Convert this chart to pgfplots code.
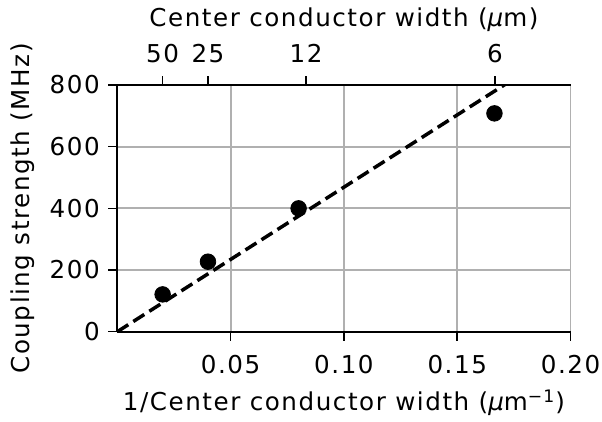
\documentclass[border=0pt]{standalone}
\usepackage{pgfplots}
\pgfplotsset{compat=1.18}
\usepackage{fontspec}
\setmainfont{DejaVu Sans}[LetterSpace=6.3]
\definecolor{gridgray}{HTML}{B0B0B0}
\newcommand{\fs}{\fontsize{12.3}{14.5}\selectfont}
\begin{document}
\fs
\begin{tikzpicture}
\path[use as bounding box] (-58.65pt,-45.15pt) rectangle (242.35pt,165.85pt);
\begin{axis}[
  at={(0pt,0pt)}, anchor=south west,
  scale only axis, width=226.65pt, height=123.35pt,
  xmin=0, xmax=0.2, ymin=0, ymax=800,
  xtick={0.05,0.10,0.15,0.20},
  xticklabels={0.05,0.10,0.15,0.20},
  ytick={0,200,400,600,800},
  axis x line*=bottom, axis y line*=left,
  axis line style={line width=1pt, -},
  tick align=outside, major tick length=4.5pt,
  every tick/.style={black, line width=0.8pt},
  grid=major, grid style={gridgray, line width=0.9pt},
  /pgf/number format/assume math mode=true,
  ticklabel style={font=\fs},
  xticklabel style={yshift=-3pt},
  label style={font=\fs},
  xlabel={1/Center conductor width ({\itshape μ}m\textsuperscript{−1})},
  ylabel={Coupling strength (MHz)},
  xlabel style={yshift=0.5pt},
  ylabel style={yshift=-1pt},
  clip=true,
]
\addplot[black, line width=1.75pt, dash pattern=on 6.5pt off 3pt] coordinates {(0,0) (0.2,937.4)};
\addplot[only marks, mark=*, mark size=3.9pt, black] coordinates {
(0.02,121) (0.04,227) (0.08,400) (0.1664,708)};
\end{axis}
\begin{axis}[
  at={(0pt,0pt)}, anchor=south west,
  scale only axis, width=226.65pt, height=123.35pt,
  xmin=0, xmax=0.2, ymin=0, ymax=800,
  axis x line*=top, hide y axis,
  axis line style={line width=1pt, -},
  xtick={0.02,0.04,0.083333,0.166667},
  xticklabels={50,25,12,6},
  tick align=outside, major tick length=4.5pt,
  every tick/.style={black, line width=0.8pt},
  /pgf/number format/assume math mode=true,
  ticklabel style={font=\fs},
  xticklabel style={yshift=2.5pt},
  label style={font=\fs},
  xlabel={Center conductor width ({\itshape μ}m)},
  xlabel style={yshift=-2.5pt},
]
\addplot[draw=none] coordinates {(0,0)};
\end{axis}
\end{tikzpicture}
\end{document}
